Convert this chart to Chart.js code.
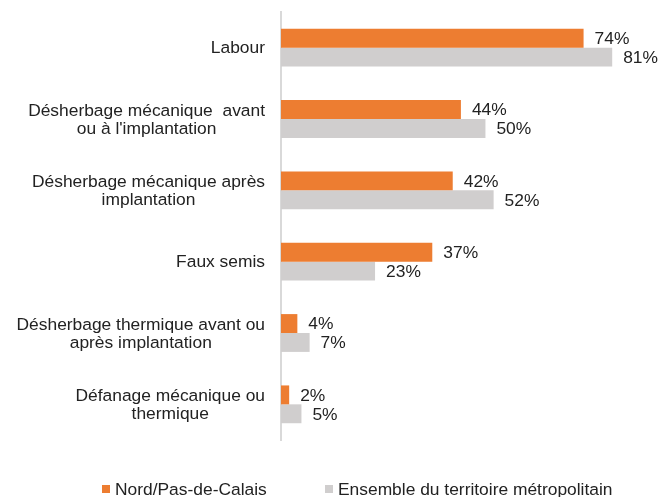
<!DOCTYPE html>
<html>
<head>
<meta charset="utf-8">
<script src="https://cdn.jsdelivr.net/npm/chart.js@4.4.0/dist/chart.umd.min.js"></script>
<style>
  html, body { margin: 0; padding: 0; background: #fff; }
  #wrap { position: relative; width: 660px; height: 497px; overflow: hidden; }
  #legend { position: absolute; top: 479px; left: 0; width: 660px; font: 17.4px "Liberation Sans", Arial, sans-serif; color: #222; line-height: 20px; }
  .item { position: absolute; top: 0; white-space: nowrap; }
  .box { position: absolute; top: 6px; width: 8px; height: 8px; }
</style>
</head>
<body>
<div id="wrap">
  <canvas id="chart" width="660" height="497"></canvas>
  <div id="legend"></div>
</div>
<script>
const categories = [
  "Labour",
  ["Désherbage mécanique  avant", "ou à l'implantation"],
  ["Désherbage mécanique après", "implantation"],
  "Faux semis",
  ["Désherbage thermique avant ou", "après implantation"],
  ["Défanage mécanique ou", "thermique"]
];
const nordValues = [74, 44, 42, 37, 4, 2];
const ensembleValues = [81, 50, 52, 23, 7, 5];
const seriesNames = ["Nord/Pas-de-Calais", "Ensemble du territoire métropolitain"];
const seriesColors = ["#ED7D31", "#D0CECE"];

const FONT = '"Liberation Sans", Arial, sans-serif';
const FONT_SIZE = 17.4;

// percentages at the end of each bar
const valueLabels = {
  id: 'valueLabels',
  afterDatasetsDraw(chart) {
    const ctx = chart.ctx;
    ctx.save();
    ctx.font = FONT_SIZE + 'px ' + FONT;
    ctx.fillStyle = '#222';
    ctx.textBaseline = 'middle';
    ctx.textAlign = 'left';
    chart.data.datasets.forEach((ds, i) => {
      chart.getDatasetMeta(i).data.forEach((bar, j) => {
        ctx.fillText(ds.data[j] + '%', bar.x + 11, bar.y + 1);
      });
    });
    ctx.restore();
  }
};

// category labels: block right-aligned, lines centred inside the block
const categoryLabels = {
  id: 'categoryLabels',
  afterDraw(chart) {
    const ctx = chart.ctx;
    const scale = chart.scales.y;
    const right = 265;
    const lineH = 18.5;
    ctx.save();
    ctx.font = FONT_SIZE + 'px ' + FONT;
    ctx.fillStyle = '#222';
    ctx.textBaseline = 'middle';
    ctx.textAlign = 'center';
    categories.forEach((lab, i) => {
      const lines = Array.isArray(lab) ? lab : [lab];
      const maxW = Math.max(...lines.map(l => ctx.measureText(l).width));
      const cx = right - maxW / 2;
      const cy = scale.getPixelForTick(i);
      const y0 = cy - (lines.length - 1) * lineH / 2;
      lines.forEach((l, k) => ctx.fillText(l, cx, y0 + k * lineH + 1));
    });
    ctx.restore();
  }
};

const ctx = document.getElementById('chart').getContext('2d');
const chart = new Chart(ctx, {
  type: 'bar',
  data: {
    labels: categories,
    datasets: [
      { label: seriesNames[0], data: nordValues, backgroundColor: seriesColors[0] },
      { label: seriesNames[1], data: ensembleValues, backgroundColor: seriesColors[1] }
    ]
  },
  options: {
    indexAxis: 'y',
    responsive: false,
    animation: false,
    layout: { padding: { top: 12, bottom: 57, right: 11, left: 0 } },
    datasets: { bar: { categoryPercentage: 0.53, barPercentage: 1 } },
    plugins: {
      legend: { display: false },
      tooltip: { enabled: false }
    },
    scales: {
      x: {
        display: false,
        min: 0,
        max: 90
      },
      y: {
        grid: { display: false },
        border: { display: true, color: '#D9D9D9', width: 2 },
        ticks: { display: false },
        afterFit(scale) { scale.width = 281; }
      }
    }
  },
  plugins: [valueLabels, categoryLabels]
});

const legend = document.getElementById('legend');
const legendX = [102, 325];
seriesNames.forEach((name, i) => {
  const item = document.createElement('div');
  item.className = 'item';
  item.style.left = legendX[i] + 'px';
  item.innerHTML = '<span class="box" style="left:0;background:' + seriesColors[i] + '"></span>' +
    '<span style="margin-left:13px">' + name + '</span>';
  legend.appendChild(item);
});
</script>
</body>
</html>
